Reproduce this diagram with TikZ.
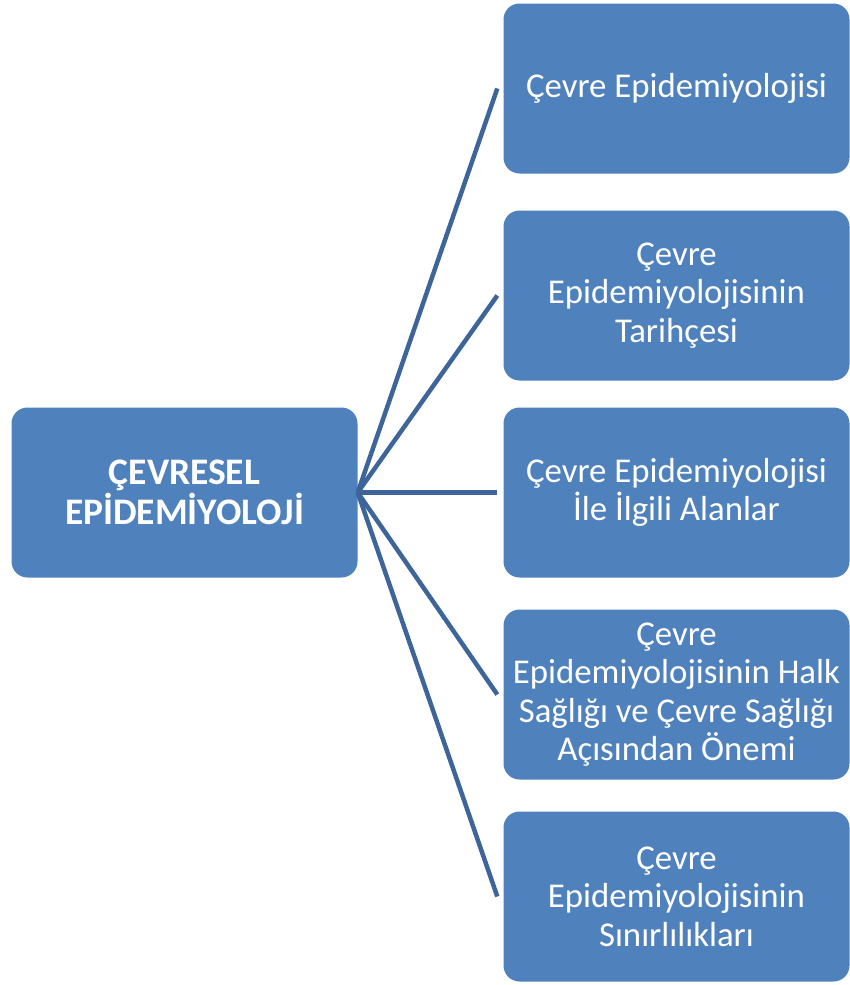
\documentclass[tikz,border=0pt]{standalone}
\usepackage{fontspec}
\setmainfont{Carlito}
\definecolor{boxblue}{HTML}{4F81BD}
\definecolor{linkblue}{HTML}{3D6599}

\begin{document}
\begin{tikzpicture}[x=1pt,y=1pt]
                        \tikzstyle{topic}=[rounded corners=16pt, fill=boxblue, minimum width=346pt, minimum height=170pt, align=center, text=white, font=\fontsize{34.8}{38.5}\selectfont]
                        \tikzstyle{level 1}=[sibling distance=202pt, level distance=492pt]
                        \useasboundingbox (0,0) rectangle (850,-985);
                        \node[topic, font=\fontsize{37.5}{40}\selectfont\bfseries] (main) at (184.5,-492.5) {ÇEVRESEL\\EPİDEMİYOLOJİ}
                            [grow'=right,
                             edge from parent/.style={draw=linkblue, line width=4.5pt},
                             edge from parent path={(\tikzparentnode.east) -- ([xshift=-6pt]\tikzchildnode.west)}]
                            child {node[topic] (ce) {Çevre Epidemiyolojisi}
                            }
                            child {node[topic, yshift=-5pt] (history) {Çevre\\Epidemiyolojisinin\\Tarihçesi}
                            }
                            child {node[topic] (fields) {Çevre Epidemiyolojisi\\İle İlgili Alanlar}
                            }
                            child {node[topic] (importance) {Çevre\\Epidemiyolojisinin Halk\\Sağlığı ve Çevre Sağlığı\\Açısından Önemi}
                            }
                            child {node[topic] (limits) {Çevre\\Epidemiyolojisinin\\Sınırlılıkları}
                            };
                    \end{tikzpicture}
\end{document}
